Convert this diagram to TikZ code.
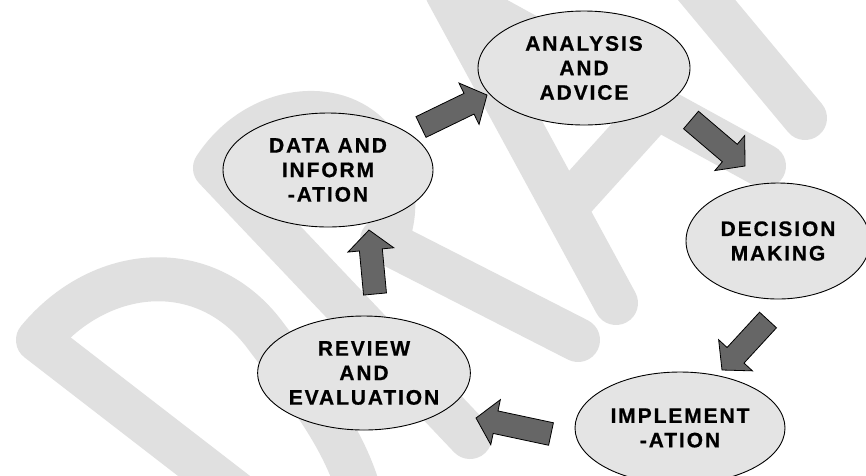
\documentclass[tikz,border=0pt]{standalone}
\usepackage{fontspec}
\setmainfont{Liberation Sans}[LetterSpace=9, BoldFont={Liberation Sans Bold}, BoldFeatures={FakeBold=0.6}]
\usetikzlibrary{shapes.geometric,calc}
\definecolor{wmgray}{HTML}{E0E0E0}
\definecolor{elfill}{HTML}{E4E4E4}
\definecolor{arfill}{HTML}{666666}
\tikzset{
  wm/.style={draw=wmgray, line width=44pt, line cap=round, line join=round},
  stage/.style={ellipse, draw=black, line width=0.9pt, fill=elfill, inner sep=0pt,
    align=center, font=\fontsize{21pt}{24.5pt}\selectfont\bfseries},
  blockarr/.style={draw=black, line width=0.8pt, fill=arfill, line join=miter}
}
\newcommand\blockarrow[2]{%
  \coordinate (#1-#2-b) at ($(#2)!20pt!(#1)$);
  \draw[blockarr] ($(#1)!11.5pt!90:(#2)$) -- ($(#1-#2-b)!11.5pt!-90:(#1)$)
    -- ($(#1-#2-b)!23pt!-90:(#1)$) -- (#2) -- ($(#1-#2-b)!23pt!90:(#1)$)
    -- ($(#1-#2-b)!11.5pt!90:(#1)$) -- ($(#1)!11.5pt!-90:(#2)$) -- cycle;}
\begin{document}
\begin{tikzpicture}[x=1pt,y=-1pt]
\useasboundingbox (0,0) rectangle (866,475);
\fill[white] (0,0) rectangle (866,475);
% watermark
\begin{scope}
\clip (0,0) rectangle (866,475);
% D
\draw[wm] (240,496) -- (38,340) .. controls (100,265) and (205,255) .. (265,335)
  .. controls (310,395) and (345,440) .. (360,495);
% R
\draw[wm] (470,437) -- (215,168) .. controls (265,92) and (372,95) .. (390,175)
  .. controls (397,205) and (392,228) .. (385,242);
\draw[wm] (382,240) -- (578,340);
% A
\draw[wm] (616,303) -- (447,-8) -- (764,166);
\draw[wm] (566,207) -- (652,112);
% F
\draw[wm] (690,-20) -- (805,118);
\end{scope}
% stages
\node[stage, minimum width=212pt, minimum height=114pt] (ana) at (584,68) {ANALYSIS\\AND\\ADVICE};
\node[stage, minimum width=210pt, minimum height=114pt] (dat) at (328,170) {DATA AND\\INFORM\\-ATION};
\node[stage, minimum width=184pt, minimum height=116pt] (dec) at (778,241) {DECISION\\MAKING};
\node[stage, minimum width=207pt, minimum height=114pt] (rev) at (364,373) {REVIEW\\AND\\EVALUATION};
\node[stage, minimum width=210pt, minimum height=112pt] (imp) at (680,428) {IMPLEMENT\\-ATION};
% arrows
\coordinate (a1t) at (421,127); \coordinate (a1h) at (487,95);
\coordinate (a2t) at (691,120); \coordinate (a2h) at (745,166);
\coordinate (a3t) at (768,320); \coordinate (a3h) at (722,370);
\coordinate (a4t) at (551,434); \coordinate (a4h) at (476,418);
\coordinate (a5t) at (375,294); \coordinate (a5h) at (369,230);
\blockarrow{a1t}{a1h}
\blockarrow{a2t}{a2h}
\blockarrow{a3t}{a3h}
\blockarrow{a4t}{a4h}
\blockarrow{a5t}{a5h}
\end{tikzpicture}
\end{document}
